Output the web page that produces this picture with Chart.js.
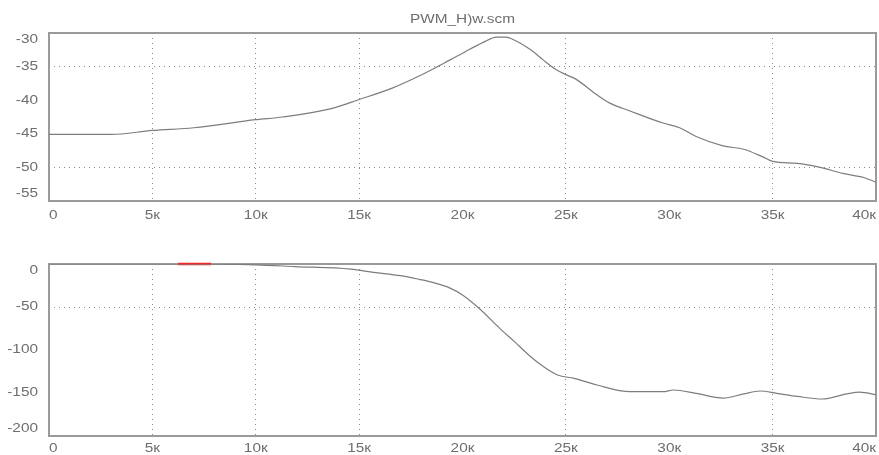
<!DOCTYPE html>
<html>
<head>
<meta charset="utf-8">
<script src="https://cdn.jsdelivr.net/npm/chart.js@4/dist/chart.umd.min.js"></script>
<style>
html,body{margin:0;padding:0;background:#fff;width:879px;height:455px;overflow:hidden;}
.box{position:absolute;left:0;width:879px;}
#b1{top:0;height:228px;}
#b2{top:228px;height:227px;}
</style>
</head>
<body>
<div class="box" id="b1"><canvas id="c1"></canvas></div>
<div class="box" id="b2"><canvas id="c2"></canvas></div>
<script>
const title = "PWM_H)w.scm";
const xTickValues = [0, 5000, 10000, 15000, 20000, 25000, 30000, 35000, 40000];
const xTickLabels = ["0", "5к", "10к", "15к", "20к", "25к", "30к", "35к", "40к"];
const xGridOn = [5000, 10000, 15000, 25000, 35000];

// Top panel: magnitude
const topFreqK = [0, 3, 5, 7, 10, 11.3, 13.6, 15, 16.6, 17.9, 19.4, 20, 21, 21.65, 22.1, 22.6, 23.3, 23.9, 24.5, 25, 25.5, 26.5, 27.1, 28.1, 29.7, 30.5, 31.3, 32.6, 33.6, 34.5, 35, 36.2, 37.3, 38.4, 39.4, 40];
const topValues = [-45.1, -45.1, -44.5, -44.1, -42.9, -42.5, -41.3, -39.9, -38.2, -36.4, -34, -33, -31.4, -30.6, -30.6, -31.2, -32.5, -34, -35.4, -36.2, -36.9, -39.2, -40.4, -41.6, -43.4, -44.1, -45.4, -46.8, -47.3, -48.4, -49.1, -49.4, -50, -50.9, -51.5, -52.2];
const topYTicks = [-30, -35, -40, -45, -50, -55];
const topYGridOn = [-35, -50];

// Bottom panel: phase
const botFreqK = [0, 6, 10, 11.9, 14.6, 15.7, 17, 17.9, 18.4, 19.4, 20, 20.8, 21.8, 22.5, 23.3, 23.9, 24.6, 25.4, 26.5, 28.1, 29.7, 30.2, 31.3, 32.6, 33.6, 34.4, 35.2, 36.2, 37.4, 38.6, 39.2, 40];
const botValues = [0, 0, -1, -3, -6, -9.7, -13.6, -17.8, -20.5, -28, -36, -51.5, -74.8, -90, -107.8, -119, -129, -133, -140.7, -148.5, -148.5, -146.5, -150.4, -156, -151, -147.7, -150.4, -154, -157, -151, -149, -152];
const botYTicks = [0, -50, -100, -150, -200];
const botYGridOn = [-50];

// Red cursor marker on bottom panel
const markerFreqK = [6.24, 7.84];
const markerValues = [0, 0];

const FONT = '12px "Liberation Sans", Arial, sans-serif';
const TXT = '#6e6e6e';
const SX = 1.28;

function pts(xs, ys){ return xs.map((x,i)=>({x:x*1000, y:ys[i]})); }

function wideText(ctx, s, x, y, align){
  const w = ctx.measureText(s).width * SX;
  let left = align === 'right' ? x - w : (align === 'center' ? x - w/2 : x);
  ctx.save();
  ctx.translate(left, y);
  ctx.scale(SX, 1);
  ctx.textAlign = 'left';
  ctx.fillText(s, 0, 0);
  ctx.restore();
}

const framePlugin = {
  id: 'frame',
  beforeDatasetsDraw(chart){
    const {ctx, chartArea:a} = chart;
    ctx.save();
    ctx.strokeStyle = '#9a9a9a';
    ctx.lineWidth = 2;
    ctx.strokeRect(a.left, a.top, a.right-a.left, a.bottom-a.top);
    ctx.restore();
  },
  afterDraw(chart, args, opts){
    const {ctx, chartArea:a} = chart;
    const xs = chart.scales.x, ys = chart.scales.y;
    ctx.save();
    ctx.font = FONT;
    ctx.fillStyle = TXT;
    ctx.textBaseline = 'middle';
    opts.yTicks.forEach(v=>{
      let py = ys.getPixelForValue(v);
      py = Math.max(a.top+7, Math.min(a.bottom-7, py));
      wideText(ctx, String(v), a.left-11, py, 'right');
    });
    xTickValues.forEach((v,i)=>{
      const px = xs.getPixelForValue(v);
      const lbl = xTickLabels[i];
      const w = ctx.measureText(lbl).width * SX;
      let cx = Math.max(a.left + w/2, Math.min(a.right - w/2, px));
      wideText(ctx, lbl, cx, a.bottom + opts.xLabelGap, 'center');
    });
    if (opts.title){
      wideText(ctx, opts.title, (a.left+a.right)/2, a.top-13, 'center');
    }
    ctx.restore();
  }
};

function makeChart(id, datasets, yMin, yMax, yGridOn, yTicks, pad, xLabelGap, ttl){
  return new Chart(document.getElementById(id), {
    type: 'line',
    data: { datasets },
    options: {
      responsive: true,
      maintainAspectRatio: false,
      animation: false,
      layout: { padding: pad },
      plugins: {
        legend: { display: false },
        tooltip: { enabled: false },
        frame: { yTicks, xLabelGap, title: ttl }
      },
      elements: { point: { radius: 0 } },
      scales: {
        x: {
          type: 'linear', min: 0, max: 40000,
          afterFit(s){ s.height = 0; },
          afterBuildTicks(s){ s.ticks = xTickValues.map(v=>({value:v})); },
          ticks: { display: false },
          border: { display: false },
          grid: {
            drawTicks: false,
            color: ctx => xGridOn.includes(ctx.tick && ctx.tick.value) ? '#8a8a8a' : 'rgba(0,0,0,0)',
            lineWidth: 1
          }
        },
        y: {
          type: 'linear', min: yMin, max: yMax,
          afterFit(s){ s.width = 0; },
          afterBuildTicks(s){ s.ticks = yTicks.map(v=>({value:v})); },
          ticks: { display: false },
          border: { display: false },
          grid: {
            drawTicks: false,
            color: ctx => yGridOn.includes(ctx.tick && ctx.tick.value) ? '#8a8a8a' : 'rgba(0,0,0,0)',
            lineWidth: 1
          }
        }
      }
    },
    plugins: [framePlugin]
  });
}

const c1 = makeChart('c1', [{
  data: pts(topFreqK, topValues),
  borderColor: '#7d7d7d', borderWidth: 1.2, cubicInterpolationMode: 'monotone', fill: false
}], -55, -30, topYGridOn, topYTicks, {left:49, right:3, top:33, bottom:27}, 15, title);

const c2 = makeChart('c2', [{
  data: pts(botFreqK, botValues),
  borderColor: '#7d7d7d', borderWidth: 1.2, cubicInterpolationMode: 'monotone', fill: false
},{
  data: pts(markerFreqK, markerValues),
  borderColor: '#ee2a2a', borderWidth: 2.5, fill: false, clip: false
}], -200, 0, botYGridOn, botYTicks, {left:49, right:3, top:36, bottom:19}, 13, null);

[c1, c2].forEach(c=>{
  c.options.scales.x.grid.borderDash = [1,4];
  c.options.scales.y.grid.borderDash = [1,4];
  c.options.scales.x.border.dash = [1,4];
  c.options.scales.y.border.dash = [1,4];
  c.update('none');
});
</script>
</body>
</html>
